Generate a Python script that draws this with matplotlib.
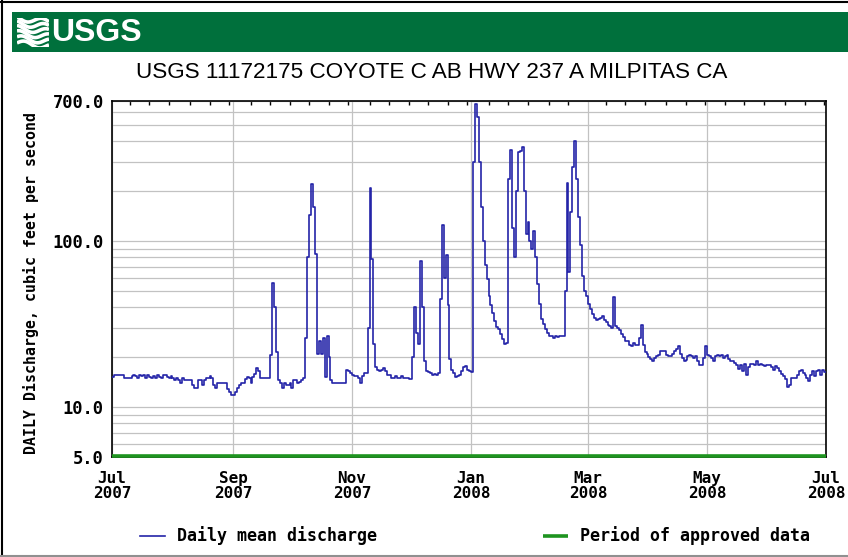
"""
USGS daily discharge chart - Coyote Creek above Hwy 237 at Milpitas, WY 2008
"""
import numpy as np
import pandas as pd
import matplotlib
matplotlib.use('Agg')
import matplotlib.pyplot as plt
from matplotlib.lines import Line2D
from matplotlib.patches import Rectangle
from matplotlib.ticker import LogLocator, NullFormatter
import matplotlib.dates as mdates

# daily mean discharge (cfs), one list per month
jul = [15.2, 15.6, 15.6, 15.6, 15.6, 15.6, 14.9, 14.9, 14.9, 14.9, 15.3, 15.6, 15.3, 14.9, 15.6, 15.3,
       15.6, 14.9, 15.6, 15.2, 14.9, 15.3, 14.9, 15.6, 15.2, 14.9, 15.6, 15.6, 15.2, 14.9, 15.3]
aug = [14.9, 14.5, 14.9, 14.5, 13.9, 14.9, 14.5, 14.5, 14.5, 14.5, 13.6, 13.0, 13.0, 14.5, 14.5, 13.6,
       14.5, 14.9, 14.9, 15.4, 14.9, 13.6, 13.0, 13.9, 13.9, 13.9, 13.9, 13.9, 12.8, 12.4, 11.9]
sep = [11.8, 12.4, 13.0, 13.6, 13.9, 14.0, 14.7, 15.2, 14.9, 13.9, 15.2, 15.9, 17.2, 16.5, 15.0, 15.0,
       15.0, 15.0, 14.9, 20.7, 56, 40, 21.5, 14.5, 13.9, 13.0, 13.9, 13.6, 13.6, 13.9]
oct = [13.0, 14.5, 14.5, 13.9, 14.2, 14.5, 14.9, 26, 80, 144, 220, 160, 84, 21, 25, 21,
       26, 15.2, 27, 20, 14.5, 13.9, 13.9, 13.9, 13.9, 13.9, 13.9, 13.9, 16.7, 16.4, 16.0]
nov = [15.7, 15.3, 15.3, 15.0, 14.0, 15.3, 16.0, 16.0, 30, 210, 78, 24, 17.5, 16.8, 16.4,
       16.8, 17.2, 16.4, 15.7, 15.7, 15.0, 15.0, 15.3, 15.0, 15.0, 15.3, 15.0, 15.0, 15.0, 14.8]
dec = [14.8, 20, 40, 28, 24, 76, 40, 19, 16.4, 16.2, 16.0, 15.5, 15.9, 15.7, 16.0, 44.6,
       125, 60, 83, 41, 19.5, 16.8, 16.0, 15.2, 15.3, 15.7, 16.4, 17.4, 17.6, 16.8, 16.4]
jan = [16.2, 300, 670, 560, 300, 160, 100, 72, 59, 47, 41, 37, 33, 30.5, 29.6, 27.5,
       25.6, 24, 24.5, 237, 355, 120, 80, 200, 345, 350, 370, 200, 110, 130, 100]
feb = [90, 115, 80, 55, 42, 34, 31.5, 29.6, 28, 27, 26.7, 26.2, 26.9, 26.5, 27.0,
       26.7, 26.9, 50, 224, 65, 150, 280, 400, 237, 140, 95, 62, 50, 47]
mar = [42, 39, 36.4, 34.5, 33.6, 33.8, 34.5, 35.5, 33.5, 32.5, 31.4, 30.8, 30, 45.8, 31, 30,
       29, 27.7, 26.5, 25, 24.9, 23.8, 23.3, 24.3, 23.8, 23.8, 26, 31.4, 23.8, 21.5, 20.8]
apr = [20, 19.5, 18.9, 19.8, 20.2, 20.7, 21.7, 21.7, 21.7, 20.7, 20.2, 20.2, 20.8, 21.7, 22.5,
       23.2, 21, 19.8, 18.9, 19.2, 20.2, 20.7, 20.2, 19.8, 20.2, 18.9, 18.0, 18.0, 19.8, 23.2]
may = [20.7, 20.2, 19.8, 18.9, 20.2, 20.5, 20.2, 20.7, 19.8, 20.2, 20.5, 19.5, 18.9, 18.9, 18.5, 18.0,
       17.0, 18.0, 16.4, 18.3, 15.7, 17.5, 18.2, 18.3, 18.0, 18.9, 18.0, 18.3, 18.0, 17.6, 18.0]
jun = [18.0, 18.0, 17.4, 16.8, 17.6, 17.2, 16.4, 15.9, 15.4, 14.8, 13.2, 13.6, 15.0, 15.0, 15.0,
       15.5, 16.4, 16.8, 16.0, 15.7, 15.0, 14.3, 15.7, 16.4, 15.4, 16.4, 16.8, 15.7, 16.8, 16.2]

discharge = jul + aug + sep + oct + nov + dec + jan + feb + mar + apr + may + jun
start_date = pd.Timestamp('2007-07-01')
end_date = pd.Timestamp('2008-07-01')
dates = pd.date_range(start_date, periods=len(discharge), freq='D')

# approved-data period spans the whole record
approved_start, approved_end = start_date, end_date

tick_dates = pd.to_datetime(['2007-07-01', '2007-09-01', '2007-11-01', '2008-01-01',
                             '2008-03-01', '2008-05-01', '2008-07-01'])
tick_labels = ['Jul\n2007', 'Sep\n2007', 'Nov\n2007', 'Jan\n2008', 'Mar\n2008', 'May\n2008', 'Jul\n2008']
y_ticks = [5, 10, 100, 700]
y_tick_labels = ['5.0', '10.0', '100.0', '700.0']

title = 'USGS 11172175 COYOTE C AB HWY 237 A MILPITAS CA'

LINE_BLUE = '#2424A8'
APPROVED_GREEN = '#1E9420'
BANNER_GREEN = '#00703C'
GRID = '#C2C2C2'
MONO = ['DejaVu Sans Mono']
NARROW = ['Liberation Sans Narrow', 'Liberation Sans', 'DejaVu Sans']

W, H = 848, 557
fig = plt.figure(figsize=(W / 100, H / 100), dpi=100)


def fx(px):
    return px / W


def fy(py):
    return 1 - py / H


# image border
fig.add_artist(Line2D([0, 1], [fy(1.5), fy(1.5)], color='black', lw=1.5))
fig.add_artist(Line2D([fx(1.5), fx(1.5)], [0, 1], color='black', lw=1.5))
fig.add_artist(Line2D([0, 1], [fy(556), fy(556)], color='#909090', lw=1.5))

# green USGS banner with logo
fig.add_artist(Rectangle((fx(12), fy(52)), 1 - fx(12), 40 / H, transform=fig.transFigure,
                         facecolor=BANNER_GREEN, edgecolor='none', zorder=1))
logo = fig.add_axes([fx(17), fy(47), 32 / W, 29 / H])
logo.set_zorder(3)
logo.set_axis_off()
logo.set_xlim(0, 1)
logo.set_ylim(0, 1)
xs = np.linspace(0, 1, 40)
for i in range(6):
    base = 0.02 + i * 0.17
    logo.plot(xs, base + 0.09 * np.sin(2 * np.pi * (xs * 1.1 + i * 0.08)) - 0.12 * xs + 0.12,
              color='white', lw=2.6, solid_capstyle='butt')
fig.text(fx(51), fy(33), 'USGS', color='white', fontsize=23, fontweight='bold',
         family=NARROW, ha='left', va='center', zorder=4)

fig.text(fx(432), fy(73), title, fontsize=16.2, family=NARROW, ha='center', va='center')

# main plot
ax = fig.add_axes([fx(112), fy(457), 714 / W, 356 / H])
x_steps = list(dates) + [end_date]
y_steps = discharge + [discharge[-1]]
flow_line, = ax.plot(x_steps, y_steps, drawstyle='steps-post', color=LINE_BLUE, lw=1.2, zorder=3)
approved_line, = ax.plot([approved_start, approved_end], [5.06, 5.06], color=APPROVED_GREEN,
                         lw=2.6, solid_capstyle='butt', zorder=4, clip_on=False)

ax.set_yscale('log')
ax.set_ylim(5, 700)
ax.set_xlim(start_date, end_date)

ax.set_yticks(y_ticks)
ax.set_yticklabels(y_tick_labels)
ax.yaxis.set_minor_locator(LogLocator(base=10, subs=np.arange(2, 10)))
ax.yaxis.set_minor_formatter(NullFormatter())

ax.set_xticks(tick_dates)
ax.set_xticklabels(tick_labels)
ax.xaxis.set_minor_locator(mdates.DayLocator(bymonthday=[10, 20, 30]))

ax.grid(which='both', axis='y', color=GRID, lw=0.9)
ax.grid(which='major', axis='x', color=GRID, lw=0.9)
ax.set_axisbelow(True)

ax.tick_params(axis='y', which='both', length=0, pad=6)
ax.tick_params(axis='x', which='major', length=0, pad=10)
ax.tick_params(axis='x', which='minor', top=True, bottom=False, direction='in', length=3, width=1)
for lbl in ax.get_yticklabels():
    lbl.set_family(MONO)
    lbl.set_fontweight('bold')
    lbl.set_fontsize(12.3)
for lbl in ax.get_xticklabels():
    lbl.set_family(MONO)
    lbl.set_fontweight('bold')
    lbl.set_fontsize(11.5)
    lbl.set_linespacing(1.0)

for sp in ax.spines.values():
    sp.set_color('black')
    sp.set_linewidth(1.2)

ax.set_ylabel('DAILY Discharge, cubic feet per second', family=MONO, fontweight='bold', fontsize=10.7)
ax.yaxis.set_label_coords(-0.102, 0.49)

fig.legend([flow_line, approved_line], ['Daily mean discharge', 'Period of approved data'],
           loc='center left', bbox_to_anchor=(fx(140), fy(536)), ncol=2, frameon=False,
           borderpad=0, borderaxespad=0, handlelength=1.5, handletextpad=0.72, columnspacing=9.95,
           prop={'family': MONO, 'weight': 'bold', 'size': 12})

fig.savefig('out.png', dpi=100)
